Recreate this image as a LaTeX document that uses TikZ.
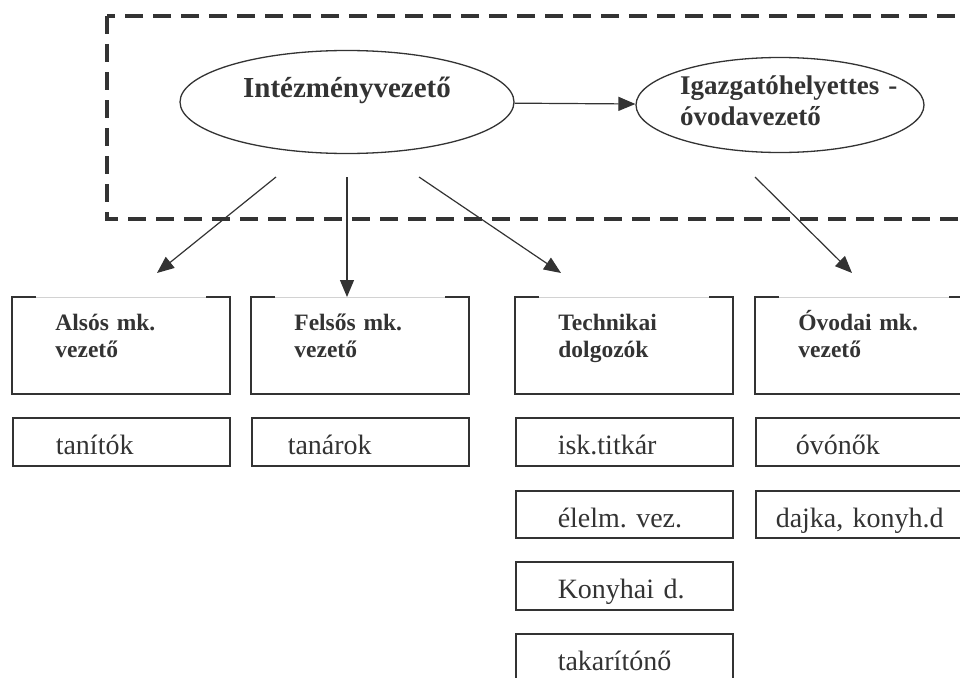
\documentclass[tikz,border=0pt]{standalone}
\usepackage{fontspec}
\setmainfont{Liberation Serif}
\usetikzlibrary{shapes.geometric, arrows.meta}

\begin{document}
\frenchspacing
\begin{tikzpicture}[x=1pt, y=-1pt,
  >={Triangle[length=17pt, width=14pt]},
  frame/.style={draw=black!80, line width=3.8pt, dash pattern=on 18pt off 10pt},
  oval/.style={ellipse, draw=black!80, line width=1.3pt, text=black!80, inner sep=0pt},
  conn/.style={->, draw=black!80, line width=1.2pt},
  head/.style={draw=gray!35, line width=0.8pt, anchor=north west, inner ysep=0pt, inner xsep=43pt,
    text width=131pt, align=left, text height=33pt, text depth=63pt, text=black!80,
    font=\fontsize{23.5}{27}\selectfont\bfseries},
  cell/.style={draw=black!80, line width=1.5pt, anchor=north west, inner ysep=0pt, inner xsep=42pt,
    text width=133pt, align=left, text height=37pt, text depth=11pt, text=black!80,
    font=\fontsize{28}{32}\selectfont}]
  \useasboundingbox (0,0) rectangle (960,677);
  \clip (0,0) rectangle (960,677);
  \draw[frame] (107,16) rectangle (1000,219);
  \node[oval, minimum width=334pt, minimum height=103pt, text height=20pt, text depth=30pt,
    font=\fontsize{29}{32}\selectfont\bfseries] (boss) at (347,102) {Intézményvezető};
  \node[oval, minimum width=288pt, minimum height=95pt, text width=200pt, align=left,
    font=\fontsize{27}{31}\selectfont\bfseries]
    (dep) at (780,105) {\mbox{Igazgatóhelyettes -}\\óvodavezető\par\vspace*{8pt}};
  \draw[conn] (boss) -- (dep);
  \node[head] (hd1) at (12,297) {Alsós mk.\\vezető};
  \node[head] (hd2) at (251,297) {Felsős mk.\\vezető};
  \node[head] (hd3) at (515,297) {Technikai\\dolgozók};
  \node[head] (hd4) at (755,297) {Óvodai mk.\\vezető};
  \foreach \n in {hd1,hd2,hd3,hd4}
    \draw[black!80, line width=1.5pt] ([xshift=24pt]\n.north west) -| (\n.south west)
      -| (\n.north east) -- ([xshift=-24pt]\n.north east);
  \coordinate (s1) at (276,177);
  \coordinate (s2) at (347,177);
  \coordinate (s3) at (419,177);
  \coordinate (s4) at (755,177);
  \coordinate (e1) at (157,273);
  \coordinate (e3) at (561,273);
  \coordinate (e4) at (852,273);
  \draw[conn] (s1) -- (e1);
  \draw[conn] (s2) -- (s2 |- hd2.north);
  \draw[conn] (s3) -- (e3);
  \draw[conn] (s4) -- (e4);
  \node[cell, inner xsep=43pt, text width=131pt] (tan1) at (12,417) {tanítók};
  \node[cell, inner xsep=36pt, text width=145pt] (tan2) at (251,417) {tanárok};
  \node[cell] (titk) at (515,417) {isk.titkár};
  \node[cell, inner xsep=40pt, text width=137pt] (ovon) at (755,417) {óvónők};
  \node[cell, text depth=10pt] (elelm) at (515,490) {élelm. vez.};
  \node[cell, inner xsep=20pt, text width=177pt, text depth=10pt] (dajka) at (755,490) {dajka, konyh.d};
  \node[cell] (konyha) at (515,561) {Konyhai d.};
  \node[cell] (takar) at (515,633) {takarítónő};
\end{tikzpicture}
\end{document}
